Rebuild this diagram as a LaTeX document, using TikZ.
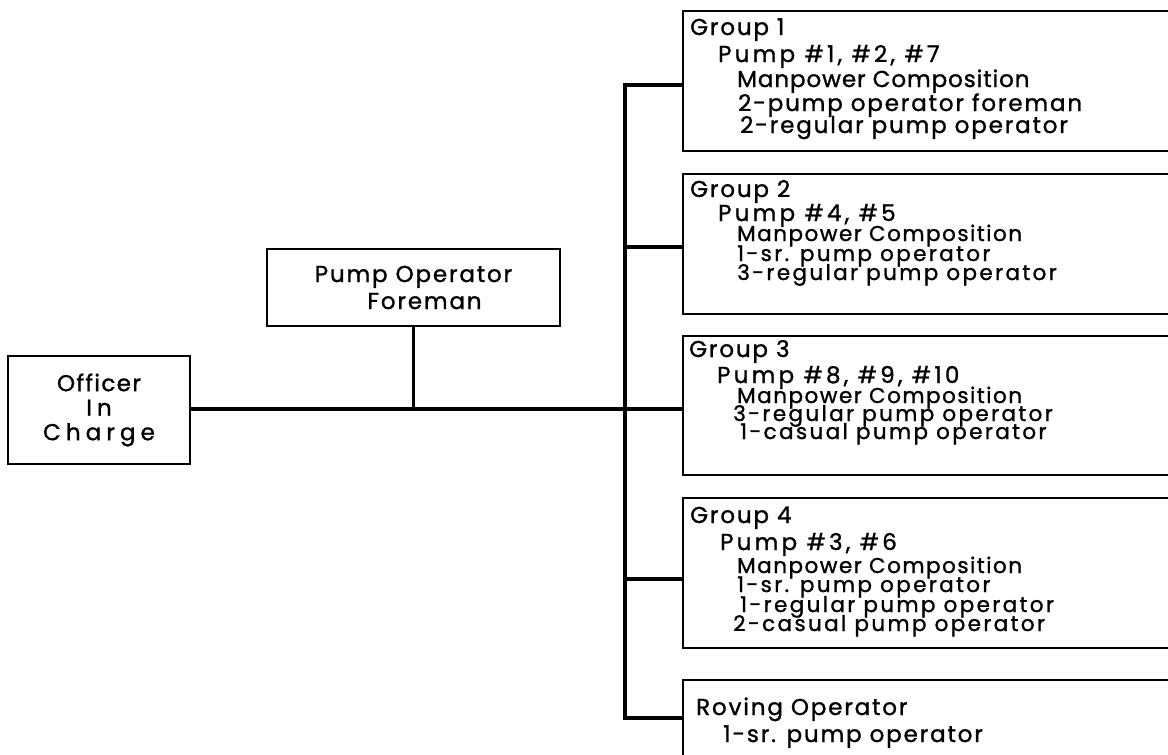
\documentclass[tikz,border=0pt]{standalone}
\usepackage{fontspec}
\setmainfont{Poppins}[FakeBold=1.2]
\newfontfamily\lbfont{Poppins}[LetterSpace=8, FakeBold=1.2]
\newfontfamily\lbsfont{Poppins}[LetterSpace=11, FakeBold=1.2]
\newfontfamily\mpfont{Poppins}[LetterSpace=4, FakeBold=1.2]
\newfontfamily\mpsfont{Poppins}[LetterSpace=7, FakeBold=1.2]
\newfontfamily\wdfont{Poppins}[LetterSpace=14, FakeBold=1.2]
\newfontfamily\fmfont{Poppins}[LetterSpace=8, FakeBold=1.2]
\newfontfamily\offont{Poppins}[LetterSpace=22, FakeBold=1.2]
\newfontfamily\ofafont{Poppins}[LetterSpace=6, FakeBold=1.2, Ligatures=NoCommon]
\begin{document}
\begin{tikzpicture}[x=1pt,y=-1pt]
\tikzset{
  box/.style={draw, line width=1.6pt, inner sep=0pt},
  conn/.style={line width=3.8pt},
  lbl/.style={anchor=base west, inner sep=0pt, font=\lbfont\fontsize{23}{24}\selectfont},
  lbs/.style={lbl, font=\lbsfont\fontsize{21.5}{24}\selectfont},
  mp/.style={lbl, font=\mpfont\fontsize{23}{24}\selectfont},
  mps/.style={lbl, font=\mpsfont\fontsize{21.5}{24}\selectfont},
  wd/.style={lbl, font=\wdfont\fontsize{23}{24}\selectfont}
}
\clip (0,0) rectangle (1168,755);
\fill[white] (0,0) rectangle (1168,755);

% left boxes
\node[box, align=center, font=\offont\fontsize{23}{24.5}\selectfont,
      minimum width=182pt, minimum height=108pt] (off) at (99,410) {{\ofafont Officer}\\In\\Charge};
\node[box, align=center, font=\fmfont\fontsize{23}{27}\selectfont,
      minimum width=293pt, minimum height=77pt] (fore) at (413.5,287.5) {Pump Operator\\\hspace*{22pt}Foreman};

% right boxes
\node[box, anchor=north west, minimum width=520pt, minimum height=140pt] (g1) at (682,10) {};
\node[box, anchor=north west, minimum width=520pt, minimum height=140pt] (g2) at (682,173) {};
\node[box, anchor=north west, minimum width=520pt, minimum height=139pt] (g3) at (682,335) {};
\node[box, anchor=north west, minimum width=520pt, minimum height=150pt] (g4) at (682,497) {};
\node[box, anchor=north west, minimum width=520pt, minimum height=120pt] (g5) at (682,679) {};

% branch points on the trunk
\coordinate (b1) at (625,85);
\coordinate (b2) at (625,247);
\coordinate (b3) at (625,409);
\coordinate (b4) at (625,579);
\coordinate (b5) at (625,718);

% connectors
\draw[conn] (off.east |- b3) -- (g3.west |- b3);
\draw[conn] (fore.south) -- (fore.south |- b3);
\draw[conn, line join=miter] (g1.west |- b1) -- (b1) -- (b5) -- (g5.west |- b5);
\draw[conn] (b2) -- (g2.west |- b2);
\draw[conn] (b4) -- (g4.west |- b4);

% Group 1
\node[lbl] (g1a) at (690,35) {Group 1};
\node[wd]  (g1b) at (718,62) {Pump \#1, \#2, \#7};
\node[mp]  (g1c) at (737,87) {Manpower Composition};
\node[lbl] (g1d) at (738,111) {2-pump operator foreman};
\node[lbl] (g1e) at (740,133) {2-regular pump operator};
% Group 2
\node[lbl] (g2a) at (690,197) {Group 2};
\node[wd]  (g2b) at (718,221) {Pump \#4, \#5};
\node[mps] (g2c) at (737,241) {Manpower Composition};
\node[lbs] (g2d) at (737,261) {1-sr. pump operator};
\node[lbs] (g2e) at (737,280) {3-regular pump operator};
% Group 3
\node[lbl] (g3a) at (689,357) {Group 3};
\node[wd]  (g3b) at (717,383) {Pump \#8, \#9, \#10};
\node[mps] (g3c) at (737,403) {Manpower Composition};
\node[lbs] (g3d) at (733,421) {3-regular pump operator};
\node[lbs] (g3e) at (740,439) {1-casual pump operator};
% Group 4
\node[lbl] (g4a) at (690,523) {Group 4};
\node[wd]  (g4b) at (720,550) {Pump \#3, \#6};
\node[mps] (g4c) at (737,573) {Manpower Composition};
\node[lbs] (g4d) at (737,592) {1-sr. pump operator};
\node[lbs] (g4e) at (740,612) {1-regular pump operator};
\node[lbs] (g4f) at (733,631) {2-casual pump operator};
% Roving
\node[lbl] (g5a) at (696,715) {Roving Operator};
\node[lbl] (g5b) at (723,742) {1-sr. pump operator};
\end{tikzpicture}
\end{document}
